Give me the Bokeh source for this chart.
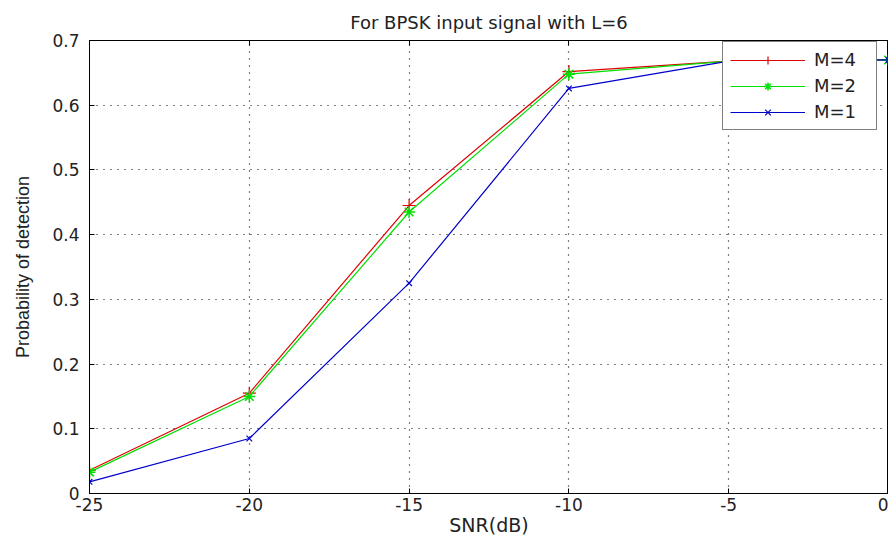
from bokeh.plotting import figure
from bokeh.models import LinearAxis, Range1d, FixedTicker, Legend, LegendItem
from bokeh.embed import file_html
from bokeh.resources import INLINE

snr = [-25, -20, -15, -10, -5, 0]
pd_m4 = [0.036, 0.155, 0.445, 0.652, 0.668, 0.670]
pd_m2 = [0.033, 0.150, 0.435, 0.648, 0.668, 0.670]
pd_m1 = [0.018, 0.085, 0.325, 0.626, 0.668, 0.670]
x_ticks = [-25, -20, -15, -10, -5, 0]
x_tick_labels = ["-25", "-20", "-15", "-10", "-5", "0"]
y_ticks = [0, 0.1, 0.2, 0.3, 0.4, 0.5, 0.6, 0.7]

FONT = "DejaVu Sans"

p = figure(width=888, height=540, output_backend="svg", toolbar_location=None,
           x_range=Range1d(-25, 0), y_range=Range1d(0, 0.7),
           min_border_left=89, min_border_right=0, min_border_top=40, min_border_bottom=47,
           title="For BPSK input signal with L=6")
p.title.align = "center"
p.title.text_font = FONT
p.title.text_font_size = "18px"
p.title.text_font_style = "normal"
p.title.text_color = "#222222"
p.title.standoff = 15

p.outline_line_color = "black"
p.outline_line_width = 1
p.background_fill_color = "white"

for ax in [p.xaxis[0], p.yaxis[0]]:
    ax.major_tick_in = 5
    ax.major_tick_out = 0
    ax.minor_tick_in = 0
    ax.minor_tick_out = 0
    ax.major_label_text_font = FONT
    ax.major_label_text_font_size = "17px"
    ax.major_label_text_color = "#222222"
    ax.axis_label_text_font = FONT
    ax.axis_label_text_font_size = "19px"
    ax.axis_label_text_font_style = "normal"
    ax.axis_label_text_color = "#222222"
    ax.axis_line_color = "black"
    ax.major_tick_line_color = "black"

p.xaxis[0].ticker = FixedTicker(ticks=x_ticks)
p.xaxis[0].major_label_overrides = {t: s for t, s in zip(x_ticks, x_tick_labels)}
p.yaxis[0].ticker = FixedTicker(ticks=y_ticks)
p.xaxis[0].axis_label = "SNR(dB)"
p.yaxis[0].axis_label = "Probability of detection"
p.yaxis[0].axis_label_text_font = "Liberation Sans"
p.yaxis[0].axis_label_text_font_size = "18px"
p.xaxis[0].axis_label_standoff = 0
p.yaxis[0].axis_label_standoff = 16
p.xaxis[0].major_label_standoff = 4
p.yaxis[0].major_label_standoff = 10

top_ax = LinearAxis(ticker=FixedTicker(ticks=x_ticks), major_tick_in=5, major_tick_out=0,
                    minor_tick_in=0, minor_tick_out=0, major_label_text_font_size="0px",
                    axis_line_color="black")
p.add_layout(top_ax, "above")

p.xgrid.ticker = FixedTicker(ticks=x_ticks)
p.ygrid.ticker = FixedTicker(ticks=y_ticks)
for g in [p.xgrid[0], p.ygrid[0]]:
    g.grid_line_color = "black"
    g.grid_line_dash = "1 6"
    g.grid_line_width = 1.2

r4l = p.line(snr, pd_m4, line_color="#e00000", line_width=1.2)
r4m = p.scatter(snr, pd_m4, marker="cross", size=13, line_color="#e00000", line_width=1.2)
r2l = p.line(snr, pd_m2, line_color="#00e000", line_width=1.2)
r2m = p.scatter(snr, pd_m2, marker="asterisk", size=12, line_color="#00e000", line_width=1.5)
r1l = p.line(snr, pd_m1, line_color="#0000cc", line_width=1.2)
r1m = p.scatter(snr, pd_m1, marker="x", size=8, line_color="#0000cc", line_width=1.2)

legend = Legend(items=[
    LegendItem(label="M=4", renderers=[r4l, r4m]),
    LegendItem(label="M=2", renderers=[r2l, r2m]),
    LegendItem(label="M=1", renderers=[r1l, r1m]),
], location=(633, 363))
legend.label_text_font = FONT
legend.label_text_font_size = "18px"
legend.label_text_color = "#222222"
legend.glyph_width = 75
legend.glyph_height = 20
legend.label_width = 55
legend.label_height = 20
legend.spacing = 5
legend.padding = 7
legend.margin = 0
legend.label_standoff = 9
legend.border_line_color = "black"
legend.border_line_width = 1
legend.background_fill_alpha = 1
p.add_layout(legend, "center")

open("out.html", "w").write(file_html(p, INLINE))
